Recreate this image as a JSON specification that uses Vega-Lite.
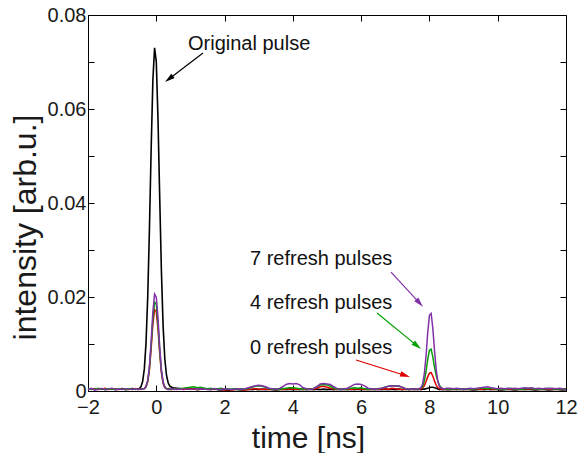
{
  "$schema": "https://vega.github.io/schema/vega-lite/v6.json",
  "width": 478,
  "height": 376,
  "autosize": {"type": "none"},
  "padding": {"left": 88, "top": 15, "right": 14, "bottom": 62},
  "background": "white",
  "config": {
    "font": "Liberation Sans",
    "view": {"stroke": "black", "strokeWidth": 1},
    "axis": {
      "domain": false,
      "grid": false,
      "tickColor": "black",
      "tickWidth": 1,
      "labelFont": "Liberation Sans",
      "labelFontSize": 20,
      "labelColor": "#1a1a1a",
      "titleFont": "Liberation Sans",
      "titleFontSize": 30,
      "titleFontWeight": "normal",
      "titleColor": "#1a1a1a",
      "labelFlush": false,
      "labelOverlap": false
    }
  },
  "datasets": {
    "traces": [
      {"t": -2.0, "k": 0.0004, "r": 0.0003, "g": 0.0005, "p": 0.0003},
      {"t": -1.9, "k": 0.0005, "r": 0.0004, "g": 0.0003, "p": 0.0005},
      {"t": -1.8, "k": 0.0003, "r": 0.0005, "g": 0.0004, "p": 0.0002},
      {"t": -1.7, "k": 0.0004, "r": 0.0003, "g": 0.0006, "p": 0.0004},
      {"t": -1.6, "k": 0.0005, "r": 0.0004, "g": 0.0003, "p": 0.0005},
      {"t": -1.5, "k": 0.0003, "r": 0.0006, "g": 0.0004, "p": 0.0003},
      {"t": -1.4, "k": 0.0004, "r": 0.0003, "g": 0.0005, "p": 0.0004},
      {"t": -1.3, "k": 0.0005, "r": 0.0004, "g": 0.0003, "p": 0.0006},
      {"t": -1.2, "k": 0.0003, "r": 0.0005, "g": 0.0004, "p": 0.0003},
      {"t": -1.1, "k": 0.0004, "r": 0.0003, "g": 0.0005, "p": 0.0004},
      {"t": -1.0, "k": 0.0005, "r": 0.0004, "g": 0.0004, "p": 0.0003},
      {"t": -0.9, "k": 0.0003, "r": 0.0005, "g": 0.0003, "p": 0.0005},
      {"t": -0.8, "k": 0.0004, "r": 0.0003, "g": 0.0005, "p": 0.0004},
      {"t": -0.7, "k": 0.0005, "r": 0.0004, "g": 0.0003, "p": 0.0003},
      {"t": -0.6, "k": 0.0004, "r": 0.0003, "g": 0.0004, "p": 0.0005},
      {"t": -0.55, "k": 0.0004, "r": 0.0004, "g": 0.0003, "p": 0.0003},
      {"t": -0.5, "k": 0.0005, "r": 0.0004, "g": 0.0004, "p": 0.0003},
      {"t": -0.45, "k": 0.0009, "r": 0.0003, "g": 0.0005, "p": 0.0004},
      {"t": -0.4, "k": 0.0020, "r": 0.0004, "g": 0.0004, "p": 0.0004},
      {"t": -0.35, "k": 0.0047, "r": 0.0005, "g": 0.0005, "p": 0.0005},
      {"t": -0.3, "k": 0.0103, "r": 0.0009, "g": 0.0009, "p": 0.0010},
      {"t": -0.25, "k": 0.0202, "r": 0.0020, "g": 0.0021, "p": 0.0023},
      {"t": -0.2, "k": 0.0347, "r": 0.0046, "g": 0.0049, "p": 0.0053},
      {"t": -0.15, "k": 0.0515, "r": 0.0090, "g": 0.0098, "p": 0.0106},
      {"t": -0.1, "k": 0.0661, "r": 0.0142, "g": 0.0154, "p": 0.0168},
      {"t": -0.05, "k": 0.0730, "r": 0.0173, "g": 0.0189, "p": 0.0206},
      {"t": 0.0, "k": 0.0701, "r": 0.0169, "g": 0.0185, "p": 0.0200},
      {"t": 0.05, "k": 0.0579, "r": 0.0132, "g": 0.0143, "p": 0.0156},
      {"t": 0.1, "k": 0.0413, "r": 0.0080, "g": 0.0087, "p": 0.0094},
      {"t": 0.15, "k": 0.0255, "r": 0.0039, "g": 0.0042, "p": 0.0045},
      {"t": 0.2, "k": 0.0138, "r": 0.0016, "g": 0.0018, "p": 0.0019},
      {"t": 0.25, "k": 0.0068, "r": 0.0007, "g": 0.0009, "p": 0.0008},
      {"t": 0.3, "k": 0.0033, "r": 0.0005, "g": 0.0004, "p": 0.0005},
      {"t": 0.35, "k": 0.0017, "r": 0.0004, "g": 0.0005, "p": 0.0003},
      {"t": 0.4, "k": 0.0010, "r": 0.0005, "g": 0.0003, "p": 0.0004},
      {"t": 0.45, "k": 0.0008, "r": 0.0003, "g": 0.0004, "p": 0.0005},
      {"t": 0.5, "k": 0.0007, "r": 0.0004, "g": 0.0005, "p": 0.0003},
      {"t": 0.6, "k": 0.0006, "r": 0.0003, "g": 0.0004, "p": 0.0004},
      {"t": 0.7, "k": 0.0005, "r": 0.0004, "g": 0.0005, "p": 0.0003},
      {"t": 0.8, "k": 0.0004, "r": 0.0003, "g": 0.0006, "p": 0.0005},
      {"t": 0.9, "k": 0.0005, "r": 0.0004, "g": 0.0007, "p": 0.0004},
      {"t": 1.0, "k": 0.0004, "r": 0.0005, "g": 0.0008, "p": 0.0003},
      {"t": 1.1, "k": 0.0005, "r": 0.0004, "g": 0.0009, "p": 0.0005},
      {"t": 1.2, "k": 0.0003, "r": 0.0003, "g": 0.0007, "p": 0.0004},
      {"t": 1.3, "k": 0.0004, "r": 0.0004, "g": 0.0008, "p": 0.0005},
      {"t": 1.4, "k": 0.0005, "r": 0.0005, "g": 0.0006, "p": 0.0004},
      {"t": 1.5, "k": 0.0004, "r": 0.0003, "g": 0.0005, "p": 0.0003},
      {"t": 1.6, "k": 0.0003, "r": 0.0004, "g": 0.0006, "p": 0.0004},
      {"t": 1.7, "k": 0.0005, "r": 0.0003, "g": 0.0004, "p": 0.0005},
      {"t": 1.8, "k": 0.0003, "r": 0.0004, "g": 0.0005, "p": 0.0003},
      {"t": 1.9, "k": 0.0002, "r": 0.0003, "g": 0.0006, "p": 0.0004},
      {"t": 2.0, "k": 0.0003, "r": 0.0002, "g": 0.0004, "p": 0.0005},
      {"t": 2.1, "k": 0.0001, "r": 0.0003, "g": 0.0005, "p": 0.0004},
      {"t": 2.2, "k": 0.0003, "r": 0.0002, "g": 0.0004, "p": 0.0003},
      {"t": 2.3, "k": 0.0004, "r": 0.0003, "g": 0.0005, "p": 0.0004},
      {"t": 2.4, "k": 0.0003, "r": 0.0004, "g": 0.0004, "p": 0.0005},
      {"t": 2.5, "k": 0.0002, "r": 0.0003, "g": 0.0005, "p": 0.0004},
      {"t": 2.6, "k": 0.0003, "r": 0.0002, "g": 0.0004, "p": 0.0005},
      {"t": 2.7, "k": 0.0004, "r": 0.0003, "g": 0.0006, "p": 0.0007},
      {"t": 2.8, "k": 0.0003, "r": 0.0004, "g": 0.0008, "p": 0.0009},
      {"t": 2.9, "k": 0.0004, "r": 0.0005, "g": 0.0010, "p": 0.0011},
      {"t": 3.0, "k": 0.0003, "r": 0.0004, "g": 0.0011, "p": 0.0012},
      {"t": 3.1, "k": 0.0004, "r": 0.0003, "g": 0.0010, "p": 0.0011},
      {"t": 3.2, "k": 0.0003, "r": 0.0004, "g": 0.0008, "p": 0.0009},
      {"t": 3.3, "k": 0.0004, "r": 0.0003, "g": 0.0005, "p": 0.0006},
      {"t": 3.4, "k": 0.0003, "r": 0.0004, "g": 0.0004, "p": 0.0005},
      {"t": 3.5, "k": 0.0002, "r": 0.0003, "g": 0.0005, "p": 0.0004},
      {"t": 3.6, "k": 0.0003, "r": 0.0004, "g": 0.0004, "p": 0.0005},
      {"t": 3.7, "k": 0.0004, "r": 0.0003, "g": 0.0005, "p": 0.0009},
      {"t": 3.8, "k": 0.0003, "r": 0.0004, "g": 0.0006, "p": 0.0014},
      {"t": 3.9, "k": 0.0004, "r": 0.0005, "g": 0.0007, "p": 0.0016},
      {"t": 4.0, "k": 0.0003, "r": 0.0004, "g": 0.0007, "p": 0.0015},
      {"t": 4.1, "k": 0.0004, "r": 0.0003, "g": 0.0006, "p": 0.0016},
      {"t": 4.2, "k": 0.0003, "r": 0.0004, "g": 0.0005, "p": 0.0013},
      {"t": 4.3, "k": 0.0004, "r": 0.0003, "g": 0.0004, "p": 0.0007},
      {"t": 4.4, "k": 0.0003, "r": 0.0004, "g": 0.0005, "p": 0.0005},
      {"t": 4.5, "k": 0.0004, "r": 0.0003, "g": 0.0004, "p": 0.0004},
      {"t": 4.6, "k": 0.0003, "r": 0.0004, "g": 0.0005, "p": 0.0005},
      {"t": 4.7, "k": 0.0004, "r": 0.0006, "g": 0.0009, "p": 0.0009},
      {"t": 4.8, "k": 0.0003, "r": 0.0009, "g": 0.0013, "p": 0.0015},
      {"t": 4.9, "k": 0.0004, "r": 0.0010, "g": 0.0014, "p": 0.0016},
      {"t": 5.0, "k": 0.0003, "r": 0.0008, "g": 0.0013, "p": 0.0015},
      {"t": 5.1, "k": 0.0004, "r": 0.0006, "g": 0.0010, "p": 0.0014},
      {"t": 5.2, "k": 0.0003, "r": 0.0004, "g": 0.0006, "p": 0.0009},
      {"t": 5.3, "k": 0.0004, "r": 0.0003, "g": 0.0004, "p": 0.0005},
      {"t": 5.4, "k": 0.0003, "r": 0.0004, "g": 0.0005, "p": 0.0004},
      {"t": 5.5, "k": 0.0004, "r": 0.0003, "g": 0.0004, "p": 0.0005},
      {"t": 5.6, "k": 0.0003, "r": 0.0004, "g": 0.0005, "p": 0.0006},
      {"t": 5.7, "k": 0.0004, "r": 0.0003, "g": 0.0006, "p": 0.0010},
      {"t": 5.8, "k": 0.0003, "r": 0.0004, "g": 0.0007, "p": 0.0014},
      {"t": 5.9, "k": 0.0004, "r": 0.0005, "g": 0.0006, "p": 0.0015},
      {"t": 6.0, "k": 0.0003, "r": 0.0004, "g": 0.0007, "p": 0.0014},
      {"t": 6.1, "k": 0.0004, "r": 0.0003, "g": 0.0005, "p": 0.0011},
      {"t": 6.2, "k": 0.0003, "r": 0.0004, "g": 0.0004, "p": 0.0006},
      {"t": 6.3, "k": 0.0004, "r": 0.0003, "g": 0.0005, "p": 0.0005},
      {"t": 6.4, "k": 0.0003, "r": 0.0004, "g": 0.0004, "p": 0.0004},
      {"t": 6.5, "k": 0.0004, "r": 0.0003, "g": 0.0005, "p": 0.0005},
      {"t": 6.6, "k": 0.0003, "r": 0.0004, "g": 0.0006, "p": 0.0006},
      {"t": 6.7, "k": 0.0004, "r": 0.0005, "g": 0.0008, "p": 0.0008},
      {"t": 6.8, "k": 0.0003, "r": 0.0004, "g": 0.0010, "p": 0.0010},
      {"t": 6.9, "k": 0.0004, "r": 0.0006, "g": 0.0011, "p": 0.0011},
      {"t": 7.0, "k": 0.0003, "r": 0.0005, "g": 0.0011, "p": 0.0010},
      {"t": 7.1, "k": 0.0004, "r": 0.0004, "g": 0.0010, "p": 0.0011},
      {"t": 7.2, "k": 0.0003, "r": 0.0003, "g": 0.0008, "p": 0.0008},
      {"t": 7.3, "k": 0.0004, "r": 0.0004, "g": 0.0005, "p": 0.0005},
      {"t": 7.4, "k": 0.0003, "r": 0.0003, "g": 0.0004, "p": 0.0004},
      {"t": 7.5, "k": 0.0004, "r": 0.0004, "g": 0.0005, "p": 0.0005},
      {"t": 7.55, "k": 0.0003, "r": 0.0003, "g": 0.0004, "p": 0.0004},
      {"t": 7.6, "k": 0.0004, "r": 0.0004, "g": 0.0005, "p": 0.0005},
      {"t": 7.65, "k": 0.0003, "r": 0.0003, "g": 0.0004, "p": 0.0005},
      {"t": 7.7, "k": 0.0004, "r": 0.0004, "g": 0.0005, "p": 0.0005},
      {"t": 7.75, "k": 0.0003, "r": 0.0004, "g": 0.0006, "p": 0.0007},
      {"t": 7.8, "k": 0.0004, "r": 0.0007, "g": 0.0010, "p": 0.0015},
      {"t": 7.85, "k": 0.0004, "r": 0.0011, "g": 0.0021, "p": 0.0036},
      {"t": 7.9, "k": 0.0005, "r": 0.0020, "g": 0.0041, "p": 0.0074},
      {"t": 7.95, "k": 0.0006, "r": 0.0030, "g": 0.0067, "p": 0.0124},
      {"t": 8.0, "k": 0.0007, "r": 0.0038, "g": 0.0087, "p": 0.0161},
      {"t": 8.05, "k": 0.0008, "r": 0.0039, "g": 0.0089, "p": 0.0165},
      {"t": 8.1, "k": 0.0008, "r": 0.0032, "g": 0.0072, "p": 0.0133},
      {"t": 8.15, "k": 0.0007, "r": 0.0021, "g": 0.0050, "p": 0.0085},
      {"t": 8.2, "k": 0.0006, "r": 0.0012, "g": 0.0033, "p": 0.0044},
      {"t": 8.25, "k": 0.0004, "r": 0.0007, "g": 0.0020, "p": 0.0019},
      {"t": 8.3, "k": 0.0003, "r": 0.0005, "g": 0.0011, "p": 0.0009},
      {"t": 8.35, "k": 0.0004, "r": 0.0004, "g": 0.0007, "p": 0.0006},
      {"t": 8.4, "k": 0.0003, "r": 0.0003, "g": 0.0005, "p": 0.0005},
      {"t": 8.45, "k": 0.0004, "r": 0.0004, "g": 0.0005, "p": 0.0005},
      {"t": 8.5, "k": 0.0003, "r": 0.0003, "g": 0.0004, "p": 0.0006},
      {"t": 8.6, "k": 0.0003, "r": 0.0004, "g": 0.0005, "p": 0.0006},
      {"t": 8.7, "k": 0.0004, "r": 0.0003, "g": 0.0004, "p": 0.0005},
      {"t": 8.8, "k": 0.0003, "r": 0.0004, "g": 0.0005, "p": 0.0006},
      {"t": 8.9, "k": 0.0004, "r": 0.0003, "g": 0.0004, "p": 0.0005},
      {"t": 9.0, "k": 0.0003, "r": 0.0004, "g": 0.0005, "p": 0.0004},
      {"t": 9.1, "k": 0.0004, "r": 0.0003, "g": 0.0004, "p": 0.0005},
      {"t": 9.2, "k": 0.0003, "r": 0.0004, "g": 0.0005, "p": 0.0006},
      {"t": 9.3, "k": 0.0002, "r": 0.0003, "g": 0.0004, "p": 0.0005},
      {"t": 9.4, "k": 0.0003, "r": 0.0004, "g": 0.0005, "p": 0.0006},
      {"t": 9.5, "k": 0.0004, "r": 0.0003, "g": 0.0006, "p": 0.0007},
      {"t": 9.6, "k": 0.0003, "r": 0.0004, "g": 0.0006, "p": 0.0008},
      {"t": 9.7, "k": 0.0004, "r": 0.0005, "g": 0.0005, "p": 0.0009},
      {"t": 9.8, "k": 0.0003, "r": 0.0004, "g": 0.0006, "p": 0.0007},
      {"t": 9.9, "k": 0.0004, "r": 0.0003, "g": 0.0005, "p": 0.0006},
      {"t": 10.0, "k": 0.0003, "r": 0.0004, "g": 0.0004, "p": 0.0005},
      {"t": 10.1, "k": 0.0002, "r": 0.0003, "g": 0.0005, "p": 0.0006},
      {"t": 10.2, "k": 0.0003, "r": 0.0004, "g": 0.0004, "p": 0.0005},
      {"t": 10.3, "k": 0.0004, "r": 0.0003, "g": 0.0005, "p": 0.0006},
      {"t": 10.4, "k": 0.0003, "r": 0.0004, "g": 0.0006, "p": 0.0005},
      {"t": 10.5, "k": 0.0002, "r": 0.0003, "g": 0.0004, "p": 0.0006},
      {"t": 10.6, "k": 0.0003, "r": 0.0004, "g": 0.0005, "p": 0.0005},
      {"t": 10.7, "k": 0.0004, "r": 0.0003, "g": 0.0004, "p": 0.0006},
      {"t": 10.8, "k": 0.0003, "r": 0.0004, "g": 0.0005, "p": 0.0007},
      {"t": 10.9, "k": 0.0004, "r": 0.0005, "g": 0.0006, "p": 0.0006},
      {"t": 11.0, "k": 0.0003, "r": 0.0004, "g": 0.0005, "p": 0.0007},
      {"t": 11.1, "k": 0.0002, "r": 0.0003, "g": 0.0004, "p": 0.0005},
      {"t": 11.2, "k": 0.0003, "r": 0.0004, "g": 0.0005, "p": 0.0006},
      {"t": 11.3, "k": 0.0004, "r": 0.0003, "g": 0.0004, "p": 0.0005},
      {"t": 11.4, "k": 0.0003, "r": 0.0004, "g": 0.0005, "p": 0.0006},
      {"t": 11.5, "k": 0.0002, "r": 0.0003, "g": 0.0006, "p": 0.0005},
      {"t": 11.6, "k": 0.0003, "r": 0.0004, "g": 0.0005, "p": 0.0006},
      {"t": 11.7, "k": 0.0004, "r": 0.0003, "g": 0.0004, "p": 0.0005},
      {"t": 11.8, "k": 0.0003, "r": 0.0004, "g": 0.0005, "p": 0.0006},
      {"t": 11.9, "k": 0.0002, "r": 0.0003, "g": 0.0004, "p": 0.0005},
      {"t": 12.0, "k": 0.0003, "r": 0.0004, "g": 0.0005, "p": 0.0004}
    ],
    "labels": [
      {"txt": "Original pulse", "x": 0.929, "y": 0.0726},
      {"txt": "7 refresh pulses", "x": 2.745, "y": 0.0269},
      {"txt": "4 refresh pulses", "x": 2.745, "y": 0.0174},
      {"txt": "0 refresh pulses", "x": 2.745, "y": 0.0079}
    ],
    "arrows": [
      {"s": "Original", "x1": 1.368, "y1": 0.0719, "x2": 0.372, "y2": 0.0664},
      {"s": "7", "x1": 6.875, "y1": 0.0253, "x2": 7.713, "y2": 0.0187},
      {"s": "4", "x1": 6.465, "y1": 0.0166, "x2": 7.641, "y2": 0.0096},
      {"s": "0", "x1": 5.85, "y1": 0.0066, "x2": 7.292, "y2": 0.0033}
    ]
  },
  "resolve": {"axis": {"x": "independent", "y": "independent"}},
  "layer": [
    {
      "data": {"name": "traces"},
      "mark": {"type": "line", "color": "#000000", "strokeWidth": 1.6},
      "encoding": {
        "x": {"field": "t", "type": "quantitative", "scale": {"domain": [-2, 12], "nice": false, "zero": false},
          "axis": {"orient": "bottom", "title": "time [ns]", "values": [-2, 0, 2, 4, 6, 8, 10, 12], "tickSize": -6, "labelPadding": 12,
            "titleX": 220, "titleY": 56, "titleBaseline": "alphabetic", "titleAnchor": null}},
        "y": {"field": "k", "type": "quantitative", "scale": {"domain": [0, 0.08], "nice": false, "zero": false},
          "axis": {"orient": "left", "title": "intensity [arb.u.]", "values": [0, 0.01, 0.02, 0.03, 0.04, 0.05, 0.06, 0.07, 0.08],
            "labelExpr": "datum.value == 0 ? '0' : (round(datum.value * 100) % 2 == 0 ? format(datum.value, '.2f') : '')",
            "tickSize": -6, "labelPadding": 8, "titleFontSize": 32, "titleX": -53, "titleY": 212, "titleAngle": 270, "titleBaseline": "alphabetic", "titleAlign": "center"}}
      }
    },
    {
      "data": {"name": "traces"},
      "mark": {"type": "line", "color": "#e00000", "strokeWidth": 1.5},
      "encoding": {
        "x": {"field": "t", "type": "quantitative", "scale": {"domain": [-2, 12], "nice": false, "zero": false},
          "axis": {"orient": "top", "title": null, "labels": false, "values": [-2, 0, 2, 4, 6, 8, 10, 12], "tickSize": -6}},
        "y": {"field": "r", "type": "quantitative", "scale": {"domain": [0, 0.08], "nice": false, "zero": false},
          "axis": {"orient": "right", "title": null, "labels": false, "values": [0, 0.01, 0.02, 0.03, 0.04, 0.05, 0.06, 0.07, 0.08], "tickSize": -6}}
      }
    },
    {
      "data": {"name": "traces"},
      "mark": {"type": "line", "color": "#00a000", "strokeWidth": 1.5},
      "encoding": {
        "x": {"field": "t", "type": "quantitative", "axis": null},
        "y": {"field": "g", "type": "quantitative", "axis": null}
      }
    },
    {
      "data": {"name": "traces"},
      "mark": {"type": "line", "color": "#8031a7", "strokeWidth": 1.5},
      "encoding": {
        "x": {"field": "t", "type": "quantitative", "axis": null},
        "y": {"field": "p", "type": "quantitative", "axis": null}
      }
    },
    {
      "data": {"name": "labels"},
      "mark": {"type": "text", "align": "left", "baseline": "alphabetic", "fontSize": 20, "font": "Liberation Sans", "color": "#111111"},
      "encoding": {
        "x": {"field": "x", "type": "quantitative", "axis": null},
        "y": {"field": "y", "type": "quantitative", "axis": null},
        "text": {"field": "txt"}
      }
    },
    {
      "data": {"name": "arrows"},
      "mark": {"type": "rule", "strokeWidth": 1.2},
      "encoding": {
        "x": {"field": "x1", "type": "quantitative", "axis": null},
        "y": {"field": "y1", "type": "quantitative", "axis": null},
        "x2": {"field": "x2"},
        "y2": {"field": "y2"},
        "color": {"field": "s", "type": "nominal", "scale": {"domain": ["Original", "0", "4", "7"], "range": ["#000000", "#e00000", "#00a000", "#8031a7"]}, "legend": null}
      }
    },
    {
      "data": {"name": "arrows"},
      "transform": [{"filter": "datum.s == 'Original'"}],
      "mark": {"type": "point", "shape": "M0,-1L-0.55,1L0.55,1Z", "filled": true, "size": 100, "angle": 232.6, "opacity": 1},
      "encoding": {
        "x": {"field": "x2", "type": "quantitative", "axis": null},
        "y": {"field": "y2", "type": "quantitative", "axis": null},
        "color": {"field": "s", "type": "nominal", "legend": null}
      }
    },
    {
      "data": {"name": "arrows"},
      "transform": [{"filter": "datum.s == '7'"}],
      "mark": {"type": "point", "shape": "M0,-1L-0.55,1L0.55,1Z", "filled": true, "size": 100, "angle": 137.6, "opacity": 1},
      "encoding": {
        "x": {"field": "x2", "type": "quantitative", "axis": null},
        "y": {"field": "y2", "type": "quantitative", "axis": null},
        "color": {"field": "s", "type": "nominal", "legend": null}
      }
    },
    {
      "data": {"name": "arrows"},
      "transform": [{"filter": "datum.s == '4'"}],
      "mark": {"type": "point", "shape": "M0,-1L-0.55,1L0.55,1Z", "filled": true, "size": 100, "angle": 129.3, "opacity": 1},
      "encoding": {
        "x": {"field": "x2", "type": "quantitative", "axis": null},
        "y": {"field": "y2", "type": "quantitative", "axis": null},
        "color": {"field": "s", "type": "nominal", "legend": null}
      }
    },
    {
      "data": {"name": "arrows"},
      "transform": [{"filter": "datum.s == '0'"}],
      "mark": {"type": "point", "shape": "M0,-1L-0.55,1L0.55,1Z", "filled": true, "size": 100, "angle": 107.5, "opacity": 1},
      "encoding": {
        "x": {"field": "x2", "type": "quantitative", "axis": null},
        "y": {"field": "y2", "type": "quantitative", "axis": null},
        "color": {"field": "s", "type": "nominal", "legend": null}
      }
    }
  ]
}
